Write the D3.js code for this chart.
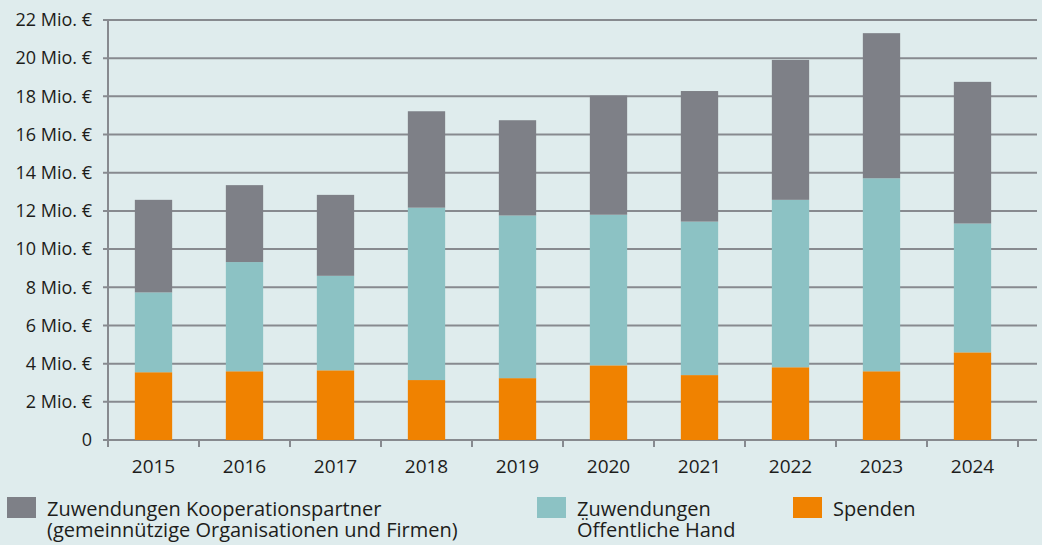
<!DOCTYPE html>
<html>
<head>
<meta charset="utf-8">
<script src="https://cdn.jsdelivr.net/npm/d3@7"></script>
<style>
  html, body { margin: 0; padding: 0; background: #dfeced; }
  svg { display: block; font-family: 'Open Sans', sans-serif; }
</style>
</head>
<body>
<svg id="chart" width="1042" height="545"></svg>
<script>
// values in Mio. €
const years = ['2015', '2016', '2017', '2018', '2019', '2020', '2021', '2022', '2023', '2024'];
const spenden = [3.55, 3.6, 3.65, 3.14, 3.24, 3.91, 3.4, 3.81, 3.6, 4.59];
const oeffentlich = [4.18, 5.72, 4.95, 9.03, 8.52, 7.89, 8.04, 8.77, 10.11, 6.75];
const kooperation = [4.85, 4.03, 4.24, 5.05, 4.99, 6.24, 6.84, 7.33, 7.6, 7.42];
const yTicks = [0, 2, 4, 6, 8, 10, 12, 14, 16, 18, 20, 22];

const seriesKeys = ['spenden', 'oeffentlich', 'kooperation'];
const colors = { spenden: '#f08200', oeffentlich: '#8cc2c4', kooperation: '#7e8087' };

const rows = years.map((y, i) => ({
  year: y,
  spenden: spenden[i],
  oeffentlich: oeffentlich[i],
  kooperation: kooperation[i]
}));

const svg = d3.select('#chart');
const margin = { top: 20, left: 108, bottom: 440, right: 1018 };
const gridEnd = 1037;
const axisColor = '#878a8f';
const textColor = '#1d1d1b';

const x = d3.scaleBand()
  .domain(years)
  .range([margin.left, margin.right])
  .paddingInner(0.59)
  .paddingOuter(0.295);

const y = d3.scaleLinear()
  .domain([0, 22])
  .range([margin.bottom, margin.top]);

// gridlines
svg.append('g')
  .selectAll('line')
  .data(yTicks)
  .enter().append('line')
  .attr('x1', margin.left - 5)
  .attr('x2', gridEnd)
  .attr('y1', d => y(d))
  .attr('y2', d => y(d))
  .attr('stroke', axisColor)
  .attr('stroke-width', 2);

// y labels
svg.append('g')
  .selectAll('text')
  .data(yTicks)
  .enter().append('text')
  .attr('x', 92)
  .attr('y', d => y(d))
  .attr('dy', '0.35em')
  .attr('text-anchor', 'end')
  .attr('fill', textColor)
  .style('font-size', '18px')
  .text(d => d === 0 ? '0' : d + ' Mio. €');

// bars
const stack = d3.stack().keys(seriesKeys)(rows);

svg.append('g')
  .selectAll('g')
  .data(stack)
  .enter().append('g')
  .attr('fill', d => colors[d.key])
  .selectAll('rect')
  .data(d => d)
  .enter().append('rect')
  .attr('x', d => x(d.data.year))
  .attr('width', x.bandwidth())
  .attr('y', d => y(d[1]))
  .attr('height', d => y(d[0]) - y(d[1]));

// axes lines
svg.append('line')
  .attr('x1', margin.left).attr('x2', margin.left)
  .attr('y1', margin.top).attr('y2', margin.bottom + 7)
  .attr('stroke', axisColor).attr('stroke-width', 2);

const step = x.step();
svg.append('g')
  .selectAll('line')
  .data(years)
  .enter().append('line')
  .attr('x1', (d, i) => margin.left + (i + 1) * step)
  .attr('x2', (d, i) => margin.left + (i + 1) * step)
  .attr('y1', margin.bottom)
  .attr('y2', margin.bottom + 7)
  .attr('stroke', axisColor)
  .attr('stroke-width', 2);

// x labels
svg.append('g')
  .selectAll('text')
  .data(years)
  .enter().append('text')
  .attr('x', d => x(d) + x.bandwidth() / 2)
  .attr('y', 473)
  .attr('text-anchor', 'middle')
  .attr('fill', textColor)
  .style('font-size', '19px')
  .text(d => d);

// legend
const legendItems = [
  { key: 'kooperation', x: 7, lines: ['Zuwendungen Kooperationspartner', '(gemeinnützige Organisationen und Firmen)'] },
  { key: 'oeffentlich', x: 537, lines: ['Zuwendungen', 'Öffentliche Hand'] },
  { key: 'spenden', x: 793, lines: ['Spenden'] }
];

const legend = svg.append('g')
  .selectAll('g')
  .data(legendItems)
  .enter().append('g')
  .attr('transform', d => `translate(${d.x}, 497)`);

legend.append('rect')
  .attr('width', 29)
  .attr('height', 21)
  .attr('fill', d => colors[d.key]);

legend.append('text')
  .attr('fill', textColor)
  .style('font-size', '20px')
  .selectAll('tspan')
  .data(d => d.lines)
  .enter().append('tspan')
  .attr('x', 40)
  .attr('y', (d, i) => 19 + i * 21)
  .text(d => d);
</script>
</body>
</html>
